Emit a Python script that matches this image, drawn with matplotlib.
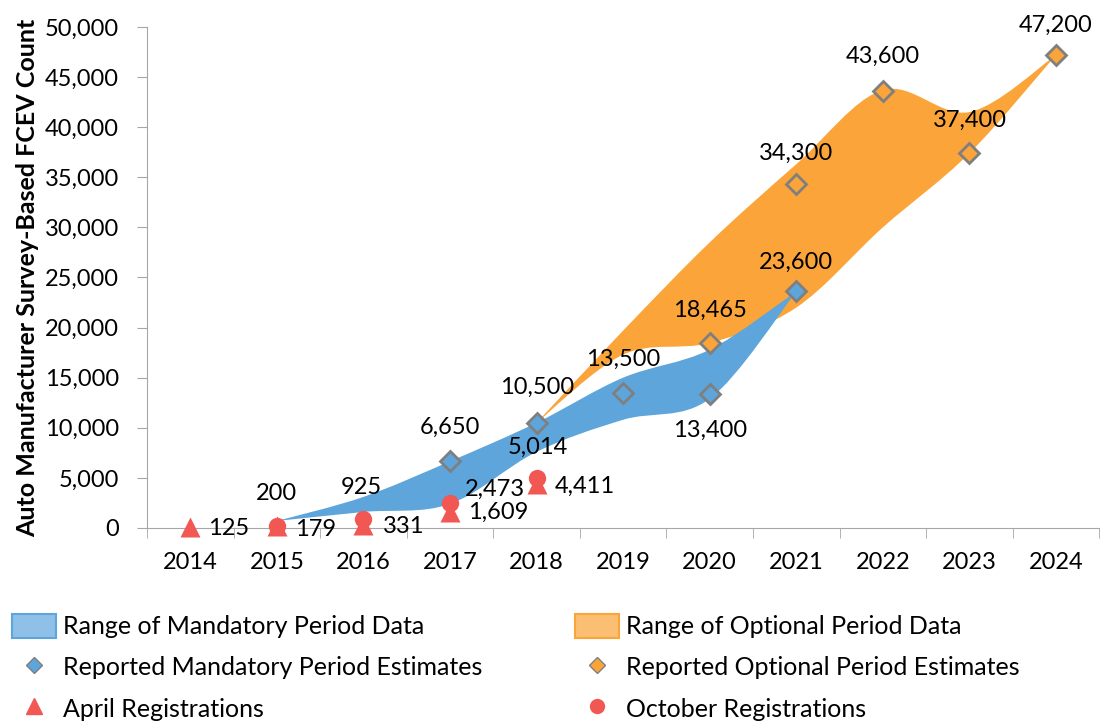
import numpy as np
import matplotlib.pyplot as plt
from matplotlib.path import Path
from matplotlib.patches import PathPatch, Patch
from matplotlib.lines import Line2D
from matplotlib.ticker import FuncFormatter, MultipleLocator

plt.rcParams['font.family'] = ['Lato', 'DejaVu Sans']

years = list(range(2014, 2025))

# edges of the shaded ranges
mand_years = [2015, 2016, 2017, 2018, 2019, 2020, 2021]
mand_high = [700, 3100, 6650, 10500, 15000, 17800, 23600]
mand_low = [700, 1600, 2400, 7600, 10800, 12900, 23600]

opt_years = [2018, 2019, 2020, 2021, 2022, 2023, 2024]
opt_high = [10500, 19700, 28500, 36300, 43700, 41500, 47200]
opt_low = [10500, 17300, 18465, 22000, 30000, 37400, 47200]

# reported estimates
mand_est_years = [2017, 2018, 2019, 2020, 2021]
mand_est = [6650, 10500, 13500, 13400, 23600]
opt_est_years = [2020, 2021, 2022, 2023, 2024]
opt_est = [18465, 34300, 43600, 37400, 47200]

# registrations
april_years = [2014, 2015, 2016, 2017, 2018]
april = [125, 179, 331, 1609, 4411]
oct_years = [2015, 2016, 2017, 2018]
october = [200, 925, 2473, 5014]

BLUE = '#5DA5DA'
ORANGE = '#FAA43A'
RED = '#F15854'
GRAY = '#7F7F7F'


def smooth_path(xs, ys):
    # catmull-rom curve through the points, returned as bezier vertices
    p = np.column_stack([xs, ys]).astype(float)
    pts = np.vstack([p[0], p, p[-1]])
    verts = [tuple(p[0])]
    codes = [Path.MOVETO]
    for i in range(1, len(pts) - 2):
        c1 = pts[i] + (pts[i + 1] - pts[i - 1]) / 6
        c2 = pts[i + 1] - (pts[i + 2] - pts[i]) / 6
        verts += [tuple(c1), tuple(c2), tuple(pts[i + 1])]
        codes += [Path.CURVE4] * 3
    return verts, codes


def band(ax, xs, hi, lo, color, z):
    v1, c1 = smooth_path(xs, hi)
    v2, c2 = smooth_path(xs[::-1], lo[::-1])
    c2[0] = Path.LINETO
    verts = v1 + v2 + [v1[0]]
    codes = c1 + c2 + [Path.CLOSEPOLY]
    ax.add_patch(PathPatch(Path(verts, codes), facecolor=color, edgecolor='none', zorder=z))


fig = plt.figure(figsize=(11.01, 7.21), dpi=100)
ax = fig.add_axes([0.1335, 0.2677, 0.865, 0.695])

band(ax, opt_years, opt_high, opt_low, ORANGE, 1)
band(ax, mand_years, mand_high, mand_low, BLUE, 2)

ax.plot(mand_est_years, mand_est, 'D', ms=10, mfc=BLUE, mec=GRAY, mew=2, zorder=4,
        clip_on=False)
ax.plot(opt_est_years, opt_est, 'D', ms=10, mfc=ORANGE, mec=GRAY, mew=2, zorder=4,
        clip_on=False)
ax.plot(april_years, april, '^', ms=15, color=RED, mec='none', zorder=5, clip_on=False)
ax.plot(oct_years, october, 'o', ms=12.5, color=RED, mec='none', zorder=5, clip_on=False)

fs = 17
mand_off = [(0, 34), (0, 35), (0, 33), (0, -37), (0, 29)]
for x, y, o in zip(mand_est_years, mand_est, mand_off):
    ax.annotate(f'{y:,}', (x, y), xytext=o, textcoords='offset pixels',
                ha='center', va='center', fontsize=fs)
opt_off = [(0, 33), (0, 31), (0, 35), (0, 33), (0, 30)]
for x, y, o in zip(opt_est_years, opt_est, opt_off):
    ax.annotate(f'{y:,}', (x, y), xytext=o, textcoords='offset pixels',
                ha='center', va='center', fontsize=fs)
apr_off = [(18, -2), (18, -3), (19, -2), (18, 0), (18, -3)]
for x, y, o in zip(april_years, april, apr_off):
    ax.annotate(f'{y:,}', (x, y), xytext=o, textcoords='offset pixels',
                ha='left', va='center', fontsize=fs)
oct_off = [(0, 32), (-2, 31), (45, 14), (1, 30)]
for x, y, o in zip(oct_years, october, oct_off):
    ax.annotate(f'{y:,}', (x, y), xytext=o, textcoords='offset pixels',
                ha='center', va='center', fontsize=fs)

ax.set_xlim(2013.5, 2024.5)
ax.set_ylim(0, 50000)
ax.set_xticks(years)
ax.set_xticklabels([str(y) for y in years])
ax.xaxis.set_minor_locator(MultipleLocator(1, offset=0.5))
ax.tick_params(axis='x', which='major', length=0, pad=17, labelsize=fs)
ax.tick_params(axis='x', which='minor', length=7, color='#A6A6A6')
ax.set_yticks(range(0, 50001, 5000))
ax.yaxis.set_major_formatter(FuncFormatter(lambda v, p: f'{int(v):,}'))
ax.tick_params(axis='y', length=7, pad=13, color='#A6A6A6', labelsize=fs)
for s in ['top', 'right']:
    ax.spines[s].set_visible(False)
for s in ['left', 'bottom']:
    ax.spines[s].set_color('#A6A6A6')
ax.set_ylabel('Auto Manufacturer Survey-Based FCEV Count', fontsize=18,
              fontweight='bold', labelpad=4)

handles = [
    Patch(facecolor='#8FC1E8', edgecolor=BLUE, linewidth=1.5),
    Line2D([], [], ls='none', marker='D', ms=8, mfc=BLUE, mec=GRAY, mew=1),
    Line2D([], [], ls='none', marker='^', ms=11, color=RED),
    Patch(facecolor='#FBBF73', edgecolor=ORANGE, linewidth=1.5),
    Line2D([], [], ls='none', marker='D', ms=8, mfc=ORANGE, mec=GRAY, mew=1),
    Line2D([], [], ls='none', marker='o', ms=10, color=RED),
]
labels = ['Range of Mandatory Period Data', 'Reported Mandatory Period Estimates',
          'April Registrations', 'Range of Optional Period Data',
          'Reported Optional Period Estimates', 'October Registrations']
fig.legend(handles, labels, ncol=2, loc='upper left', bbox_to_anchor=(0.011, 0.149),
           frameon=False, fontsize=18, handlelength=1.75, handleheight=1.1,
           handletextpad=0.3, labelspacing=0.67, columnspacing=3.7,
           borderpad=0, borderaxespad=0)

fig.savefig('out.png', dpi=100)
